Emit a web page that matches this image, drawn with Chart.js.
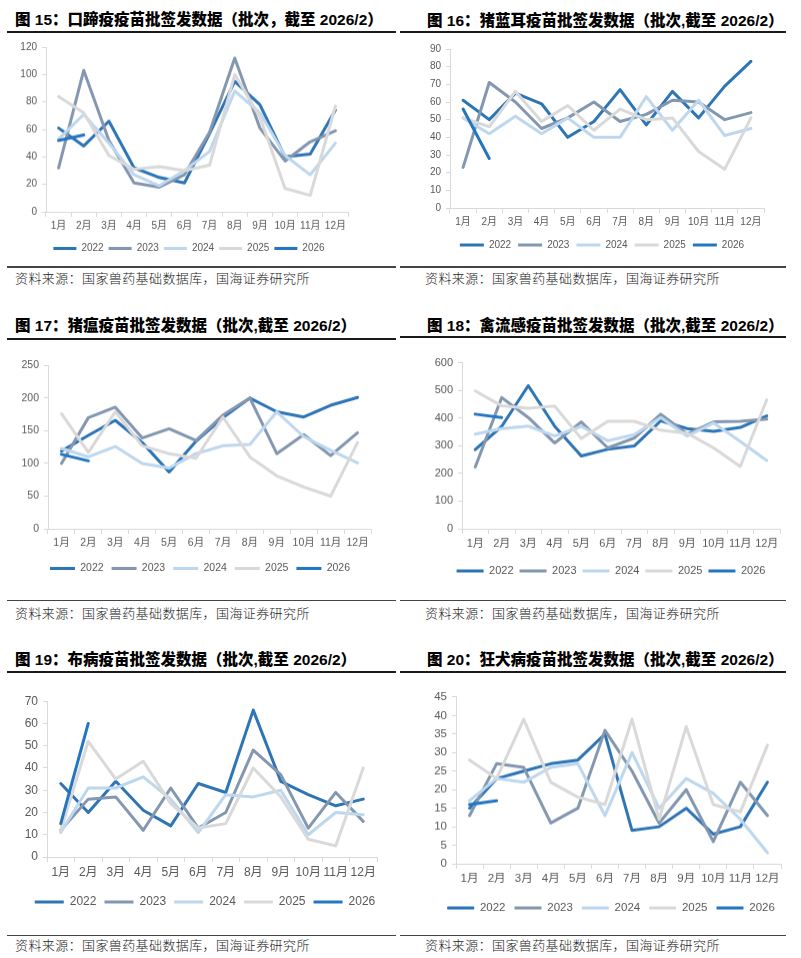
<!DOCTYPE html>
<html>
<head>
<meta charset="utf-8">
<script src="https://cdn.jsdelivr.net/npm/chart.js@4.4.1/dist/chart.umd.min.js"></script>
<style>
  body { margin: 0; background: #fff; width: 801px; height: 958px; position: relative; overflow: hidden;
         font-family: "Liberation Sans", "Noto Sans CJK SC", sans-serif; }
  .title { position: absolute; font-weight: 900; font-size: 15.5px; line-height: 16px; height: 16px; color: #000; white-space: nowrap; }
  .rule { position: absolute; height: 2px; background: #1a1a1a; }
  .rule.bot { height: 1.5px; background: #444; }
  .src { position: absolute; font-family: "Noto Sans CJK SC", sans-serif; font-weight: 300; font-size: 13px;
         letter-spacing: 0.4px; line-height: 14px; color: #222; white-space: nowrap; }
  .box { position: absolute; }
</style>
</head>
<body>
<script>
// categories / legend
const months = ['1月', '2月', '3月', '4月', '5月', '6月', '7月', '8月', '9月', '10月', '11月', '12月'];
const years = ['2022', '2023', '2024', '2025', '2026'];
const source = '资料来源：国家兽药基础数据库，国海证券研究所';

// 图15 口蹄疫
const fmd2022 = [61, 48, 66, 32, 25, 21, 57, 95, 78, 40, 42, 74];
const fmd2023 = [32, 103, 52, 21, 18, 27, 58, 112, 61, 37, 51, 59];
const fmd2024 = [53, 71, 50, 27, 19, 30, 44, 88, 72, 41, 27, 50];
const fmd2025 = [84, 72, 41, 31, 33, 30, 34, 100, 69, 17, 12, 77];
const fmd2026 = [52, 56];

// 图16 猪蓝耳
const prrs2022 = [61, 50, 65, 59, 40, 49, 67, 47, 66, 51, 69, 83];
const prrs2023 = [23, 71, 60, 45, 51, 60, 49, 53, 61, 60, 50, 54];
const prrs2024 = [51, 42, 52, 42, 51, 40, 40, 63, 44, 61, 41, 45];
const prrs2025 = [51, 46, 66, 49, 58, 44, 56, 50, 51, 32, 22, 51];
const prrs2026 = [56, 28];

// 图17 猪瘟
const csf2022 = [119, 143, 166, 132, 87, 134, 170, 200, 179, 171, 189, 201];
const csf2023 = [100, 170, 186, 139, 153, 135, 174, 200, 115, 144, 112, 147];
const csf2024 = [123, 110, 126, 100, 93, 115, 127, 129, 179, 141, 120, 101];
const csf2025 = [176, 117, 179, 127, 115, 108, 171, 110, 81, 64, 50, 132];
const csf2026 = [114, 104];

// 图18 禽流感
const ai2022 = [286, 370, 517, 370, 263, 287, 299, 390, 362, 352, 366, 408];
const ai2023 = [223, 474, 402, 310, 386, 292, 328, 414, 342, 386, 388, 396];
const ai2024 = [342, 362, 371, 335, 370, 318, 340, 402, 335, 382, 316, 247];
const ai2025 = [498, 444, 435, 443, 326, 388, 388, 356, 345, 292, 225, 466];
const ai2026 = [414, 402];

// 图19 布病
const bru2022 = [33, 20, 34, 21, 14, 33, 29, 66, 34, 28, 23, 26];
const bru2023 = [12, 26, 27, 12, 31, 13, 20, 48, 37, 13, 29, 16];
const bru2024 = [11, 31, 31, 36, 26, 11, 28, 27, 30, 10, 20, 19];
const bru2025 = [12, 52, 35, 43, 24, 13, 15, 40, 27, 8, 5, 40];
const bru2026 = [15, 60];

// 图20 狂犬病
const rab2022 = [15, 23, 25, 27, 28, 35, 9, 10, 15, 8, 10, 22];
const rab2023 = [13, 27, 26, 11, 15, 36, 25, 11, 20, 6, 22, 13];
const rab2024 = [17, 23, 22, 26, 27, 13, 30, 15, 23, 19, 12, 3];
const rab2025 = [28, 23, 39, 22, 18, 16, 39, 12, 37, 16, 14, 32];
const rab2026 = [16, 17];

const colors = ['#2E75B6', '#8497B0', '#BDD7EE', '#D9D9D9', '#2576C0'];
const tickColor = '#595959';
const axisColor = '#D9D9D9';
const FONT = '"Liberation Sans", "Noto Sans CJK SC", sans-serif';

// layout of the six panels
const panels = [
  { title: '图 15：口蹄疫疫苗批签发数据（批次，截至 2026/2）', series: [fmd2022, fmd2023, fmd2024, fmd2025, fmd2026],
    max: 120, step: 20, plot: { l: 46, r: 348, t: 46, b: 211 }, tick: 10,
    lg: { y: 247.5, cx: 189, font: 10, box: 23, pad: 5 },
    titleX: 15, titleY: 20, rule: { x: 7, w: 389, y: 31 }, bot: { y: 266 }, srcY: 278 },
  { title: '图 16：猪蓝耳疫苗批签发数据（批次,截至 2026/2）', series: [prrs2022, prrs2023, prrs2024, prrs2025, prrs2026],
    max: 90, step: 10, plot: { l: 450, r: 764, t: 48, b: 208 }, tick: 10,
    lg: { y: 245, cx: 602, font: 10, box: 24, pad: 7 },
    titleX: 427, titleY: 20.5, rule: { x: 400, w: 386, y: 31 }, bot: { y: 266 }, srcY: 278, srcX: 425 },
  { title: '图 17：猪瘟疫苗批签发数据（批次,截至 2026/2）', series: [csf2022, csf2023, csf2024, csf2025, csf2026],
    max: 250, step: 50, plot: { l: 48, r: 371, t: 364, b: 528 }, tick: 10.5,
    lg: { y: 567.5, cx: 200, font: 10.5, box: 25, pad: 8 },
    titleX: 15, titleY: 325.5, rule: { x: 7, w: 389, y: 338 }, bot: { y: 599.5 }, srcY: 613 },
  { title: '图 18：禽流感疫苗批签发数据（批次,截至 2026/2）', series: [ai2022, ai2023, ai2024, ai2025, ai2026],
    max: 600, step: 100, plot: { l: 462, r: 780, t: 361, b: 528 }, tick: 11,
    lg: { y: 570, cx: 611, font: 11, box: 27, pad: 6 },
    titleX: 427, titleY: 325.5, rule: { x: 400, w: 386, y: 336 }, bot: { y: 599.5 }, srcY: 613, srcX: 425 },
  { title: '图 19：布病疫苗批签发数据（批次,截至 2026/2）', series: [bru2022, bru2023, bru2024, bru2025, bru2026],
    max: 70, step: 10, plot: { l: 47, r: 377, t: 699, b: 857 }, tick: 12,
    lg: { y: 902, cx: 205, font: 12, box: 29, pad: 8 },
    titleX: 15, titleY: 660, rule: { x: 7, w: 389, y: 671 }, bot: { y: 934.5 }, srcY: 945 },
  { title: '图 20：狂犬病疫苗批签发数据（批次,截至 2026/2）', series: [rab2022, rab2023, rab2024, rab2025, rab2026],
    max: 45, step: 5, plot: { l: 456, r: 781, t: 695, b: 863 }, tick: 11.5,
    lg: { y: 907, cx: 611, font: 11.5, box: 27, pad: 9 },
    titleX: 427, titleY: 660, rule: { x: 400, w: 386, y: 671 }, bot: { y: 934.5 }, srcY: 945, srcX: 425 }
];

// move the legend so its centre sits where the Excel one was
const legendShift = {
  id: 'legendShift',
  afterLayout(chart, args, opts) {
    const lg = chart.legend;
    if (!lg || opts.cx == null) return;
    const dx = opts.cx - (lg.left + lg.right) / 2;
    lg.left += dx;
    lg.right += dx;
  }
};

function addDiv(cls, css, text) {
  const d = document.createElement('div');
  d.className = cls;
  Object.assign(d.style, css);
  if (text) d.textContent = text;
  document.body.appendChild(d);
  return d;
}

panels.forEach(p => {
  addDiv('title', { left: p.titleX + 'px', top: (p.titleY - 8) + 'px' }, p.title);
  addDiv('rule', { left: p.rule.x + 'px', width: p.rule.w + 'px', top: p.rule.y + 'px' });
  addDiv('rule bot', { left: p.rule.x + 'px', width: p.rule.w + 'px', top: p.bot.y + 'px' });
  addDiv('src', { left: (p.srcX || 15) + 'px', top: (p.srcY - 7) + 'px' }, source);

  const yW = 40, padTop = 10, padRight = 6;
  const left = p.plot.l - yW;
  const top = p.plot.t - padTop;
  const width = p.plot.r + padRight - left;
  const bottom = p.lg.y + p.lg.font / 2 + 10;
  const legendTop = p.lg.y - p.lg.pad - p.lg.font / 2;
  const xH = legendTop - p.plot.b;

  const box = addDiv('box', { left: left + 'px', top: top + 'px', width: width + 'px', height: (bottom - top) + 'px' });
  const canvas = document.createElement('canvas');
  box.appendChild(canvas);

  new Chart(canvas.getContext('2d'), {
    type: 'line',
    data: {
      labels: months,
      datasets: years.map((yr, i) => ({
        label: yr,
        data: p.series[i],
        borderColor: colors[i],
        backgroundColor: colors[i],
        borderWidth: 3,
        pointRadius: 0,
        pointHoverRadius: 0,
        tension: 0,
        fill: false,
        borderJoinStyle: 'round',
        borderCapStyle: 'round',
        order: years.length - 1 - i
      }))
    },
    options: {
      responsive: true,
      maintainAspectRatio: false,
      animation: false,
      layout: { padding: { top: padTop, right: padRight, left: 0, bottom: 0 } },
      scales: {
        x: {
          offset: true,
          grid: { offset: true, drawOnChartArea: false, tickLength: 5, color: axisColor },
          border: { color: axisColor },
          ticks: { color: tickColor, font: { size: p.tick, family: FONT }, padding: 3, maxRotation: 0, autoSkip: false },
          afterFit(s) { s.height = xH; }
        },
        y: {
          min: 0,
          max: p.max,
          grid: { drawOnChartArea: false, tickLength: 4, color: axisColor },
          border: { color: axisColor },
          ticks: { stepSize: p.step, color: tickColor, font: { size: p.tick, family: FONT }, padding: 5 },
          afterFit(s) { s.width = yW; }
        }
      },
      plugins: {
        tooltip: { enabled: false },
        legendShift: { cx: p.lg.cx - left },
        legend: {
          position: 'bottom',
          labels: {
            boxWidth: p.lg.box,
            boxHeight: 3,
            padding: p.lg.pad,
            color: tickColor,
            font: { size: p.lg.font, family: FONT },
            sort: (a, b) => a.datasetIndex - b.datasetIndex,
            generateLabels(chart) {
              const items = Chart.defaults.plugins.legend.labels.generateLabels(chart);
              items.forEach(it => { it.lineWidth = 0; it.fillStyle = it.strokeStyle; });
              return items;
            }
          }
        }
      }
    },
    plugins: [legendShift]
  });
});
</script>
</body>
</html>
